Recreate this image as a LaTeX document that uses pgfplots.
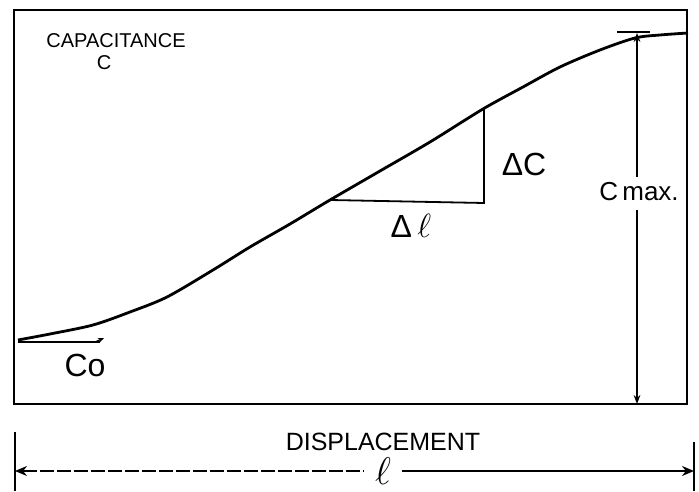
\documentclass[border=0pt]{standalone}
\usepackage{pgfplots}
\pgfplotsset{compat=1.18}
\usepackage{fontspec}
\setmainfont{Liberation Sans}
\usetikzlibrary{arrows.meta}
\begin{document}
\begin{tikzpicture}
\begin{axis}[
  x=1pt, y=1pt,
  xmin=14, xmax=687, ymin=87, ymax=481,
  xtick=\empty, ytick=\empty,
  axis line style={line width=1.8pt},
  clip=false,
]
% invisible frame fixing the picture size (image pixel frame)
\path (axis cs:0,0) rectangle (axis cs:699,491);
% capacitance curve
\addplot[black, line width=2.8pt, smooth, tension=0.5] coordinates {
 (18,151) (50,157) (93,166) (130,179) (167,194) (213,221) (250,244)
 (290,267) (330,291) (380,320) (430,349) (483,382) (523,404) (560,424)
 (600,441) (635,453) (660,456) (688,458)
};
% slope triangle
\addplot[black, line width=1.8pt] coordinates {(330,291) (484,288) (484,383)};
% C0 baseline
\addplot[black, line width=1.2pt] coordinates {(18,149) (100,149)};
\draw[-{Stealth[length=6pt,width=5pt]}, line width=1.2pt] (axis cs:95,149) -- (axis cs:104,153);
% Cmax dimension
\draw[line width=1.2pt] (axis cs:617,459) -- (axis cs:650,459);
\draw[{Stealth[length=9pt]}-, line width=1.4pt] (axis cs:637,458) -- (axis cs:637,314);
\draw[-{Stealth[length=9pt]}, line width=1.4pt] (axis cs:637,281) -- (axis cs:637,87);
\node[font=\fontsize{26}{26}\selectfont] at (axis cs:639,299) {C\,max.};
% labels
\node[font=\fontsize{20}{20}\selectfont] at (axis cs:116,450) {CAPACITANCE};
\node[font=\fontsize{20}{20}\selectfont] at (axis cs:104,428) {C};
\node[font=\fontsize{32}{32}\selectfont] at (axis cs:524,327) {ΔC};
\node[font=\fontsize{32}{32}\selectfont] at (axis cs:411,265) {Δ\,\scalebox{1.35}{\fontsize{24}{24}\selectfont$\ell$}};
\node[font=\fontsize{32}{32}\selectfont] at (axis cs:85,126) {Co};
% displacement dimension
\node[font=\fontsize{25}{25}\selectfont] at (axis cs:383,49) {DISPLACEMENT};
\draw[line width=1.3pt] (axis cs:15,59) -- (axis cs:15,0);
\draw[line width=1.3pt] (axis cs:694,49) -- (axis cs:694,0);
\draw[{Stealth[length=12pt,width=10pt]}-, line width=1.1pt, dash pattern=on 14pt off 3pt] (axis cs:15,20) -- (axis cs:364,20);
\draw[-{Stealth[length=12pt,width=10pt]}, line width=1.5pt] (axis cs:402,20) -- (axis cs:694,20);
\node[inner sep=0pt] at (axis cs:383,20) {\scalebox{1.55}{\fontsize{24}{24}\selectfont$\ell$}};
\end{axis}
\end{tikzpicture}
\end{document}
